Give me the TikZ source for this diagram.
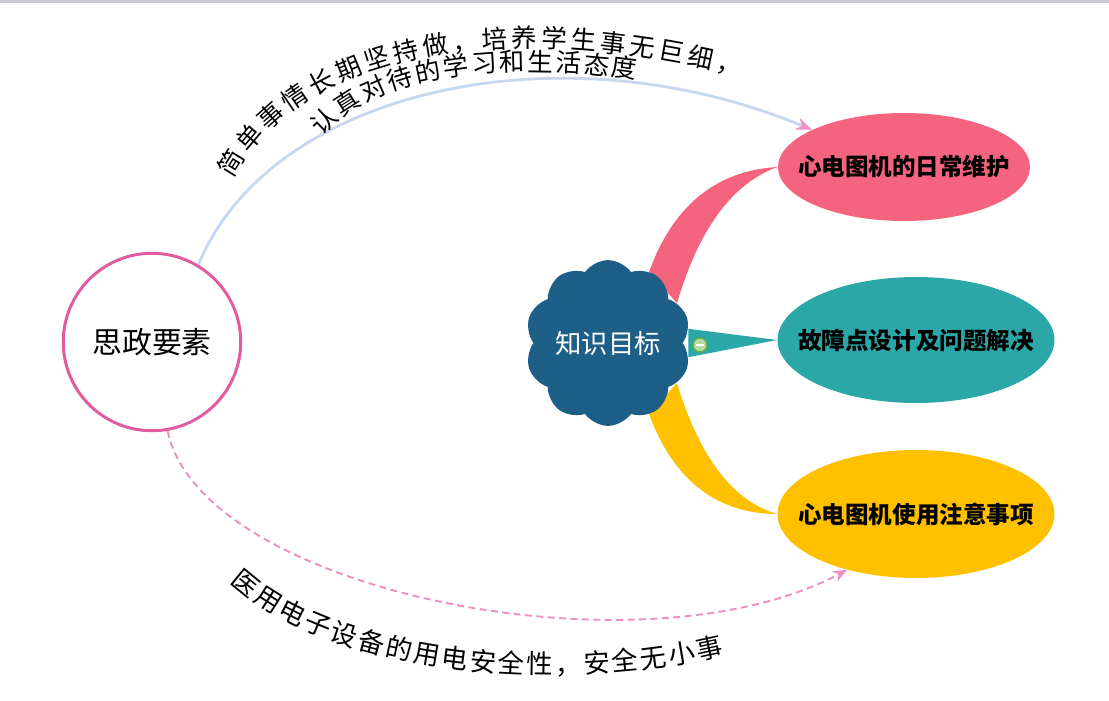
\documentclass[tikz,border=0pt]{standalone}
\usepackage{fontspec}
\setmainfont{Noto Sans CJK SC}
\usepackage{tikz}
\usetikzlibrary{shapes.geometric, shapes.symbols, arrows.meta, decorations.text, calc}

\definecolor{rosered}{HTML}{F4647F}
\definecolor{tealc}{HTML}{2AA7A6}
\definecolor{amber}{HTML}{FFC000}
\definecolor{cloudblue}{HTML}{1D5F87}
\definecolor{ringpink}{HTML}{E05C9E}
\definecolor{arcblue}{HTML}{C6D8F0}
\definecolor{tippink}{HTML}{EC92C2}
\definecolor{edgegray}{HTML}{C9CCD1}
\definecolor{foldgreen}{HTML}{62AE3A}

\pgfdeclarelayer{background}
\pgfsetlayers{background,main}

\newcommand{\curvefont}{\fontsize{14.5}{15}\selectfont}
\newcommand{\lowfont}{\fontsize{15}{16}\selectfont}

\begin{document}
\begin{tikzpicture}[
        x=0.02cm, y=-0.02cm,
        topic/.style={
            ellipse,
            inner ysep=0pt,
            font=\fontsize{13.4}{14}\selectfont\bfseries
        },
        goalcloud/.style={
            cloud,
            cloud puffs=10,
            cloud puff arc=110,
            aspect=1,
            fill=cloudblue,
            text=white,
            inner sep=0pt,
            minimum width=3.26cm,
            minimum height=3.26cm,
            font=\fontsize{15}{16}\selectfont
        },
        arcline/.style={draw=arcblue, line width=1.6pt, -{Stealth[length=9pt, width=7pt, color=tippink]}},
        dashline/.style={draw=tippink, line width=1.1pt, dash pattern=on 4pt off 2.5pt, -{Stealth[length=8pt, width=6.5pt]}},
        curvetext/.style={decorate, decoration={text along path, text align={fit to path}}}
    ]
    \useasboundingbox (0,0) rectangle (1109,700);
    \fill[edgegray] (0,0) rectangle (1109,3);

    % main nodes
    \node[circle, draw=ringpink, line width=1.7pt, fill=white, minimum size=3.55cm,
          font=\fontsize{17}{18}\selectfont] (sz) at (152,342) {思政要素};
    \node[goalcloud] (goal) at (608,343) {知识目标};

    \node[topic, fill=rosered, inner xsep=-0.34cm, minimum width=5.04cm, minimum height=2.16cm] (e1) at (904,167) {心电图机的日常维护};
    \node[topic, fill=tealc, inner xsep=-0.40cm, minimum width=5.54cm, minimum height=2.52cm] (e2) at (916,340) {故障点设计及问题解决};
    \node[topic, fill=amber, inner xsep=-0.40cm, minimum width=5.54cm, minimum height=2.56cm] (e3) at (916,514) {心电图机使用注意事项};

    % branches behind the nodes
    \begin{pgfonlayer}{background}
        \fill[rosered] (goal.60) .. controls (675,200) and (722,170) .. (e1.west)
            .. controls (735,182) and (700,225) .. (goal.30) -- cycle;
        \fill[tealc] (goal.10) -- (e2.west) -- (goal.-10) -- cycle;
        \fill[amber] (goal.-60) .. controls (675,485) and (722,514) .. (e3.west)
            .. controls (735,502) and (700,460) .. (goal.-30) -- cycle;
    \end{pgfonlayer}

    % fold toggle
    \node[circle, draw=foldgreen, line width=0.8pt, fill=foldgreen!45!white, minimum size=0.28cm, inner sep=0pt] (fold) at (700,345) {};
    \draw[white, line width=1.2pt] ($(fold.center)+(-4,0)$) -- ($(fold.center)+(4,0)$);

    % links from the circle
    \draw[arcline] (sz.59) .. controls (270,90) and (560,25) .. (e1.158);
    \draw[dashline] (sz.-80) .. controls (200,590) and (640,680) .. (e3.219);

    % curved labels
    \path[curvetext, decoration={text={|\curvefont|简单事情长期坚持做，培养学生事无巨细，}}]
        (233,179) .. controls (300,52) and (500,16) .. (740,76);
    \path[curvetext, decoration={text={|\curvefont|认真对待的学习和生活态度}}]
        (322,137) .. controls (375,74) and (500,60) .. (636,79);
    \path[curvetext, decoration={text={|\lowfont|医用电子设备的用电安全性，安全无小事}}]
        (230,582) .. controls (330,675) and (560,694) .. (724,655);

\end{tikzpicture}
\end{document}
